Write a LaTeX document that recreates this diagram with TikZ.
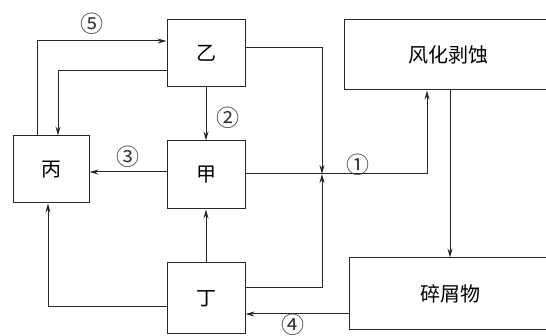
\documentclass[tikz,border=0pt]{standalone}
\usepackage{fontspec}
\newfontfamily\cjk{Noto Sans CJK SC}
\usetikzlibrary{arrows.meta,positioning}

\begin{document}
\begin{tikzpicture}[x=1pt,y=-1pt,
  box/.style={draw=black!85, line width=1pt, inner sep=0pt, font=\cjk\fontsize{20}{24}\selectfont},
  arr/.style={draw=black!85, line width=1pt, -{Stealth[length=9pt,width=5pt]}},
  num/.style={inner sep=0pt, font=\cjk\fontsize{23}{26}\selectfont, text=black!80}]
\useasboundingbox (0,0) rectangle (546,336);
\clip (0,0) rectangle (546,336);
% Boxes
\node[box, minimum width=78pt, minimum height=67pt] (yi) at (206,53.5) {乙};
\node[box, minimum width=76pt, minimum height=67pt] (bing) at (51,169.5) {丙};
\node[box, minimum width=78pt, minimum height=68pt] (jia) at (206,175) {甲};
\node[box, minimum width=78pt, minimum height=71pt] (ding) at (206,298.5) {丁};
\node[box, minimum width=208pt, minimum height=70pt] (fh) at (448,55) {风化剥蚀};
\node[box, minimum width=202pt, minimum height=72pt] (sx) at (450,294) {碎屑物};
% Bend points
\coordinate (p5) at (37,41);
\coordinate (pb) at (58,71);
\coordinate (p3) at (0,172);
\coordinate (pr) at (0,48);
\coordinate (jn) at (322,174);
\coordinate (p1) at (427,0);
\coordinate (pd) at (0,288);
\coordinate (pf) at (450,0);
\coordinate (p4) at (0,314);
\coordinate (p0) at (48,307);
% Connectors
\draw[arr] (bing.north -| p5) |- (yi.west |- p5);
\draw[arr] (yi.west |- pb) -| (bing.north -| pb);
\draw[arr] (yi.south) -- (jia.north);
\draw[arr] (jia.west |- p3) -- (bing.east |- p3);
\draw[arr] (yi.east |- pr) -| (jn);
\draw[arr] (jia.east |- jn) -| (fh.south -| p1);
\draw[arr] (ding.east |- pd) -| (jn);
\draw[arr] (fh.south -| pf) -- (sx.north -| pf);
\draw[arr] (sx.west |- p4) -- (ding.east |- p4);
\draw[arr] (ding.west |- p0) -| (bing.south -| p0);
\draw[arr] (ding.north) -- (jia.south);
% Labels
\node[num] (l5) at (92,24) {⑤};
\node[num] (l2) at (228,118) {②};
\node[num] (l3) at (128,157) {③};
\node[num] (l1) at (358,165) {①};
\node[num] (l4) at (293,325) {④};
\end{tikzpicture}
\end{document}
